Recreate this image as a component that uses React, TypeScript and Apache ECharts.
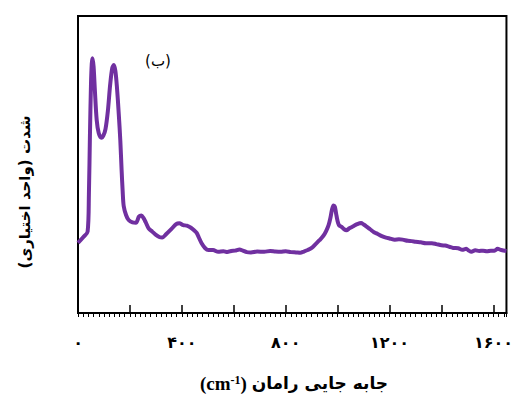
import React, { useEffect, useRef } from "react";
import * as echarts from "echarts";

const ramanShift = [
  0, 20, 37, 42, 46, 50, 53, 56, 60, 65, 72, 80, 90, 98, 106, 115, 124, 132, 138, 144, 150, 157, 163, 168, 172, 176,
  185, 195, 210, 223, 235, 244, 252, 261, 272, 286, 300, 315, 324, 340, 360, 378, 390, 405, 419, 435, 448, 457, 465,
  476, 490, 502, 520, 540, 560, 575, 590, 605, 622, 635, 650, 666, 690, 717, 740, 760, 780, 800, 820, 840, 856, 870,
  885, 900, 915, 930, 945, 955, 965, 972, 978, 984, 989, 994, 999, 1005, 1015, 1025, 1034, 1045, 1060, 1075, 1090,
  1100, 1110, 1125, 1140, 1154, 1170, 1186, 1200, 1220, 1236, 1250, 1270, 1285, 1300, 1320, 1340, 1363, 1380, 1400,
  1414, 1430, 1445, 1464, 1480, 1495, 1505, 1515, 1530, 1545, 1560, 1575, 1590, 1604, 1616, 1630, 1650,
];
const intensity = [
  23.6, 25.5, 27.4, 40, 60, 77, 84, 85.8, 83, 75, 65, 60.5, 59, 59.8, 62, 68, 77, 82.5, 83.5, 81.5, 76, 67, 58, 48, 41,
  36, 33, 31.3, 30.5, 30.4, 32.5, 32.8, 32, 30.5, 28.5, 27.4, 26.3, 25.5, 25.4, 26.6, 28.3, 29.9, 30.2, 29.6, 29.4,
  28.7, 27.8, 27, 25.5, 23.5, 21.8, 21.2, 21.2, 20.6, 20.8, 20.5, 20.9, 21.0, 21.4, 21.0, 20.5, 20.4, 20.7, 20.6, 20.9,
  20.7, 20.6, 20.8, 20.5, 20.4, 20.3, 20.7, 21.2, 21.9, 23.2, 24.5, 26, 27.5, 29.6, 32, 34.8, 36.2, 35.8, 33.5, 31.2,
  29.6, 29, 28.2, 27.9, 28.5, 29.2, 29.9, 30.3, 29.8, 29.2, 28.2, 27.2, 26.6, 25.9, 25.4, 25.1, 24.7, 24.8, 24.7, 24.3,
  24.2, 24, 23.8, 23.5, 23.5, 23.2, 22.8, 22.7, 22.3, 21.9, 21.8, 21.3, 21.6, 21.0, 20.6, 21.1, 20.9, 21.0, 20.8, 21.0,
  21.0, 21.6, 21.2, 20.9,
];
const labeledTicks = [0, 400, 800, 1200, 1600];
const persianDigits = ["۰", "۱", "۲", "۳", "۴", "۵", "۶", "۷", "۸", "۹"];
const xTitle = "جابه جایی رامان";
const yTitle = "شدت (واحد اختیاری)";
const panelLabel = "(ب)";

const toPersian = (v: number) =>
  String(v)
    .split("")
    .map((c) => persianDigits[Number(c)] ?? c)
    .join("");

export default function App() {
  const ref = useRef<HTMLDivElement>(null);
  useEffect(() => {
    if (!ref.current) return;
    const chart = echarts.init(ref.current, null, { renderer: "svg" });
    const font = "'DejaVu Sans', sans-serif";
    const data = ramanShift.map((x, i) => [x, intensity[i]]);
    chart.setOption({
      animation: false,
      backgroundColor: "#fff",
      grid: { left: 78, right: 3, top: 16, bottom: 83, show: true, borderColor: "#000", borderWidth: 2 },
      xAxis: [
        {
          type: "value",
          min: 0,
          max: 1650,
          interval: 200,
          position: "bottom",
          axisLine: { show: true, onZero: false, lineStyle: { color: "#000", width: 2 } },
          axisTick: { show: true, inside: true, length: 8, lineStyle: { color: "#000", width: 1.5 } },
          axisLabel: {
            formatter: (v: number) => (labeledTicks.includes(v) ? toPersian(v) : ""),
            margin: 21,
            fontWeight: "bold",
            fontSize: 16,
            color: "#000",
            fontFamily: font,
            showMaxLabel: false,
          },
          splitLine: { show: false },
        },
        {
          type: "value",
          min: 0,
          max: 1650,
          interval: 20,
          position: "bottom",
          axisLine: { show: false, onZero: false },
          axisTick: { show: true, inside: false, length: 4, lineStyle: { color: "#000", width: 1 } },
          axisLabel: { show: false },
          splitLine: { show: false },
        },
      ],
      yAxis: {
        type: "value",
        min: 0,
        max: 100,
        axisLine: { show: true, lineStyle: { color: "#000", width: 2 } },
        axisTick: { show: false },
        axisLabel: { show: false },
        splitLine: { show: false },
      },
      series: [
        {
          type: "line",
          data,
          xAxisIndex: 0,
          showSymbol: false,
          smooth: 0.3,
          lineStyle: { color: "#7030A0", width: 4 },
        },
      ],
      graphic: [
        {
          type: "text",
          x: 25,
          y: 192,
          rotation: Math.PI / 2,
          style: {
            text: "\u200F" + yTitle + "\u200F",
            align: "center",
            verticalAlign: "middle",
            font: "bold 15px 'DejaVu Sans'",
            fill: "#000",
          },
        },
        {
          type: "text",
          x: 294,
          y: 383,
          style: {
            text: "{a|(cm}{b|-1}{a|) }{p|" + xTitle + "}",
            align: "center",
            verticalAlign: "middle",
            rich: {
              a: { font: "bold 19px 'Liberation Serif'", fill: "#000", verticalAlign: "bottom" },
              b: { font: "bold 12px 'Liberation Serif'", fill: "#000", verticalAlign: "top", padding: [0, 0, 7, 0] },
              p: { font: "bold 17px 'DejaVu Sans'", fill: "#000" },
            },
          },
        },
        {
          type: "text",
          x: 158,
          y: 61,
          style: {
            text: panelLabel,
            align: "center",
            verticalAlign: "middle",
            font: "15px 'DejaVu Sans'",
            fill: "#000",
          },
        },
      ],
    });
    return () => chart.dispose();
  }, []);
  return <div ref={ref} style={{ position: "fixed", left: 0, top: 0, width: 516, height: 396 }} />;
}
